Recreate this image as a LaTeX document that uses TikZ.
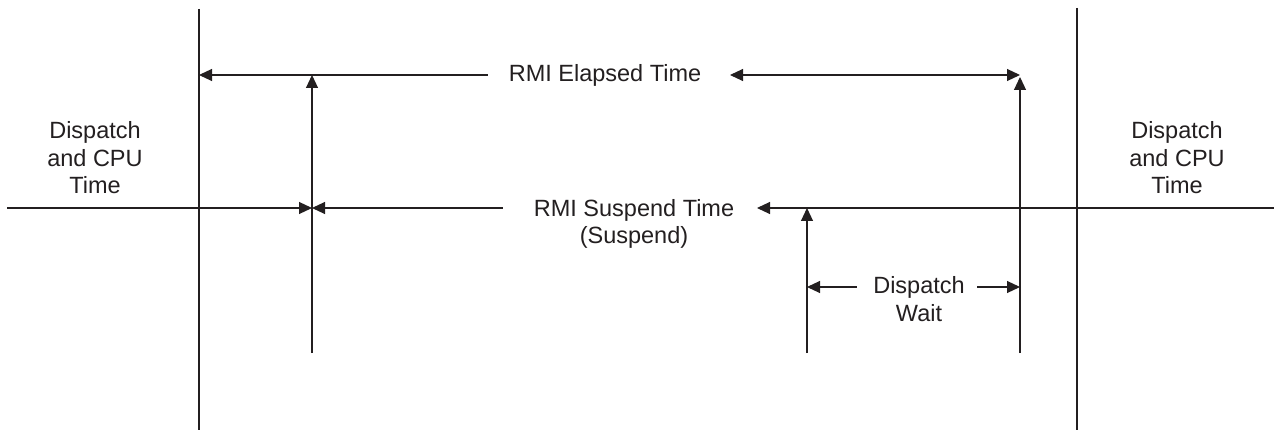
\documentclass[tikz,border=0pt]{standalone}
\usepackage{fontspec}
\setmainfont{Liberation Sans}
\usetikzlibrary{arrows.meta}
\definecolor{ink}{HTML}{231F20}
\tikzset{
  line/.style={draw=ink, line width=1.1pt},
  tri/.tip={Triangle[length=13pt,width=12pt]},
  lbl/.style={text=ink, inner sep=0pt, align=center, anchor=base,
    font=\fontsize{23.5}{27.5}\selectfont},
}
\begin{document}
\begin{tikzpicture}[x=1pt,y=-1pt]
\useasboundingbox (0,0) rectangle (1274,430);
% coordinates
\coordinate (lT) at (199,9);   \coordinate (lB) at (199,430);
\coordinate (rT) at (1077,8);  \coordinate (rB) at (1077,430);
\coordinate (hL) at (7,208);   \coordinate (hR) at (1274,208);
\coordinate (eL) at (199,75);  \coordinate (eR) at (1020,75);
\coordinate (sX) at (312,208); \coordinate (sE) at (312,75); \coordinate (sB) at (312,353);
\coordinate (dX) at (807,208); \coordinate (dB) at (807,353);
\coordinate (fE) at (1020,77); \coordinate (fB) at (1020,353);
\coordinate (wL) at (807,287); \coordinate (wR) at (1020,287);
% texts (anchor = baseline of the last line)
\node[lbl] (leftT) at (95,194) {Dispatch\\and CPU\\Time};
\node[lbl] (rightT) at (1177,194) {Dispatch\\and CPU\\Time};
\node[lbl] (elapsed) at (605,82) {RMI Elapsed Time};
\node[lbl] (suspend) at (634,244) {RMI Suspend Time\\(Suspend)};
\node[lbl] (wait) at (919,321) {Dispatch\\Wait};
% frame lines
\draw[line] (lT) -- (lB);
\draw[line] (rT) -- (rB);
% elapsed
\draw[line,{tri}-] (eL) -- (488,75);
\draw[line,{tri}-{tri}] (730,75) -- (eR);
% suspend line
\draw[line,-{tri}] (hL) -- (sX);
\draw[line,{tri}-] (sX) -- (503,208);
\draw[line,{tri}-] (757,208) -- (hR);
% verticals
\draw[line,-{tri}] (sB) -- (sE);
\draw[line,-{tri}] (fB) -- (fE);
\draw[line,-{tri}] (dB) -- (dX);
% dispatch wait
\draw[line,{tri}-] (wL) -- (857,287);
\draw[line,-{tri}] (977,287) -- (wR);
\end{tikzpicture}
\end{document}
